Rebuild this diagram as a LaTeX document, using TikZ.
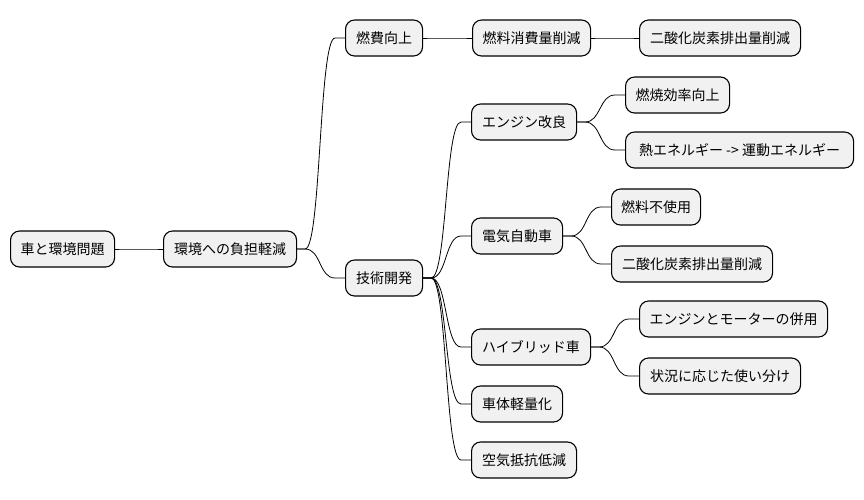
\documentclass[tikz,border=0pt]{standalone}
\usepackage{fontspec}
\setmainfont{Noto Sans CJK JP}
\definecolor{boxfill}{HTML}{F1F1F1}
\newcommand\mmlink[2]{\draw[link] (#1.east) -- ++(8,0) .. controls +(16,0) and ([xshift=-26pt]#2.west) .. ([xshift=-10pt]#2.west) -- (#2.west);}
\begin{document}
\begin{tikzpicture}[x=1pt,y=-1pt,
  box/.style={draw=black, line width=1.1pt, fill=boxfill, rounded corners=9pt, minimum height=36pt, inner xsep=2pt, anchor=west, font=\fontsize{14pt}{16pt}\selectfont},
  link/.style={draw=black, line width=0.8pt}]
\useasboundingbox (0,0) rectangle (864,499);
\node[box, minimum width=104pt] (root) at (10,249) {車と環境問題};
\node[box, minimum width=133pt] (env) at (163,249) {環境への負担軽減};
\node[box, minimum width=77pt] (fuel) at (345,38) {燃費向上};
\node[box, minimum width=118pt] (cons) at (472,38) {燃料消費量削減};
\node[box, minimum width=161pt] (co2a) at (639,38) {二酸化炭素排出量削減};
\node[box, minimum width=77pt] (tech) at (345,278) {技術開発};
\node[box, minimum width=105pt] (eng) at (471,122) {エンジン改良};
\node[box, minimum width=104pt] (comb) at (625,95) {燃焼効率向上};
\node[box, minimum width=228pt] (heat) at (625,150) {熱エネルギー -> 運動エネルギー};
\node[box, minimum width=91pt] (ev) at (471,236) {電気自動車};
\node[box, minimum width=89pt] (nofuel) at (611,207) {燃料不使用};
\node[box, minimum width=161pt] (co2b) at (611,264) {二酸化炭素排出量削減};
\node[box, minimum width=119pt] (hyb) at (471,347) {ハイブリッド車};
\node[box, minimum width=188pt] (both) at (639,319) {エンジンとモーターの併用};
\node[box, minimum width=161pt] (sit) at (639,376) {状況に応じた使い分け};
\node[box, minimum width=91pt] (light) at (471,404) {車体軽量化};
\node[box, minimum width=105pt] (aero) at (471,460) {空気抵抗低減};
\mmlink{root}{env}
\mmlink{env}{fuel}
\mmlink{fuel}{cons}
\mmlink{cons}{co2a}
\mmlink{env}{tech}
\mmlink{tech}{eng}
\mmlink{eng}{comb}
\mmlink{eng}{heat}
\mmlink{tech}{ev}
\mmlink{ev}{nofuel}
\mmlink{ev}{co2b}
\mmlink{tech}{hyb}
\mmlink{hyb}{both}
\mmlink{hyb}{sit}
\mmlink{tech}{light}
\mmlink{tech}{aero}
\end{tikzpicture}
\end{document}
